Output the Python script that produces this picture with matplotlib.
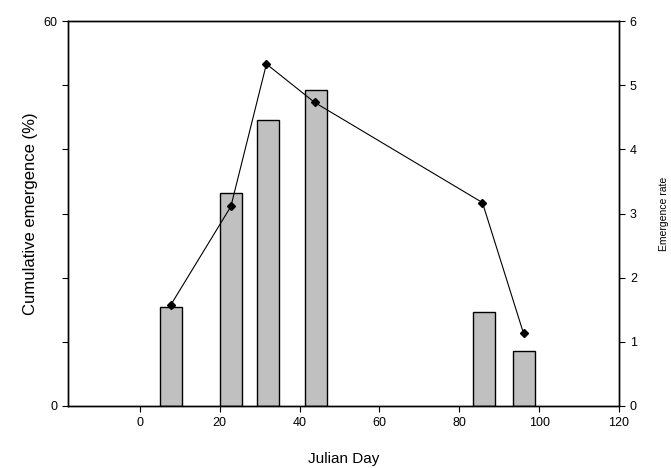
import matplotlib.pyplot as plt

plt.rcParams['font.family'] = ['Liberation Sans', 'DejaVu Sans']

# Cumulative emergence bars
bar_days = [7.9, 22.9, 32.1, 44.1, 86.1, 96.2]
bar_pct = [15.4, 33.2, 44.6, 49.2, 14.6, 8.6]

# Emergence rate line
rate_days = [7.7, 22.8, 31.7, 43.8, 85.8, 96.1]
rate_vals = [1.57, 3.11, 5.33, 4.73, 3.17, 1.13]

fig = plt.figure(figsize=(6.71, 4.68), dpi=100)
ax = fig.add_axes([0.1013, 0.1325, 0.8212, 0.8226])

ax.bar(bar_days, bar_pct, width=5.5, color='#c0c0c0', edgecolor='black', linewidth=1)
ax.set_xlim(-18, 120)
ax.set_ylim(0, 60)
ax.set_xticks([0, 20, 40, 60, 80, 100, 120])
ax.set_yticks([0, 10, 20, 30, 40, 50, 60])
ax.set_yticklabels(['0', '', '', '', '', '', '60'])
ax.tick_params(direction='out', length=4.3, labelsize=9)
ax.set_xlabel('Julian Day', fontsize=11, labelpad=17)
ax.set_ylabel('Cumulative emergence (%)', fontsize=12, labelpad=4)

ax2 = ax.twinx()
ax2.plot(rate_days, rate_vals, color='black', linewidth=0.8, marker='D', markersize=4.5)
ax2.set_ylim(0, 6)
ax2.set_yticks([0, 1, 2, 3, 4, 5, 6])
ax2.tick_params(direction='out', length=4.3, labelsize=9)
ax2.set_ylabel('Emergence rate', fontsize=7.5, labelpad=16)

for a in (ax, ax2):
    for s in a.spines.values():
        s.set_linewidth(1)

fig.savefig('out.png', dpi=100)
